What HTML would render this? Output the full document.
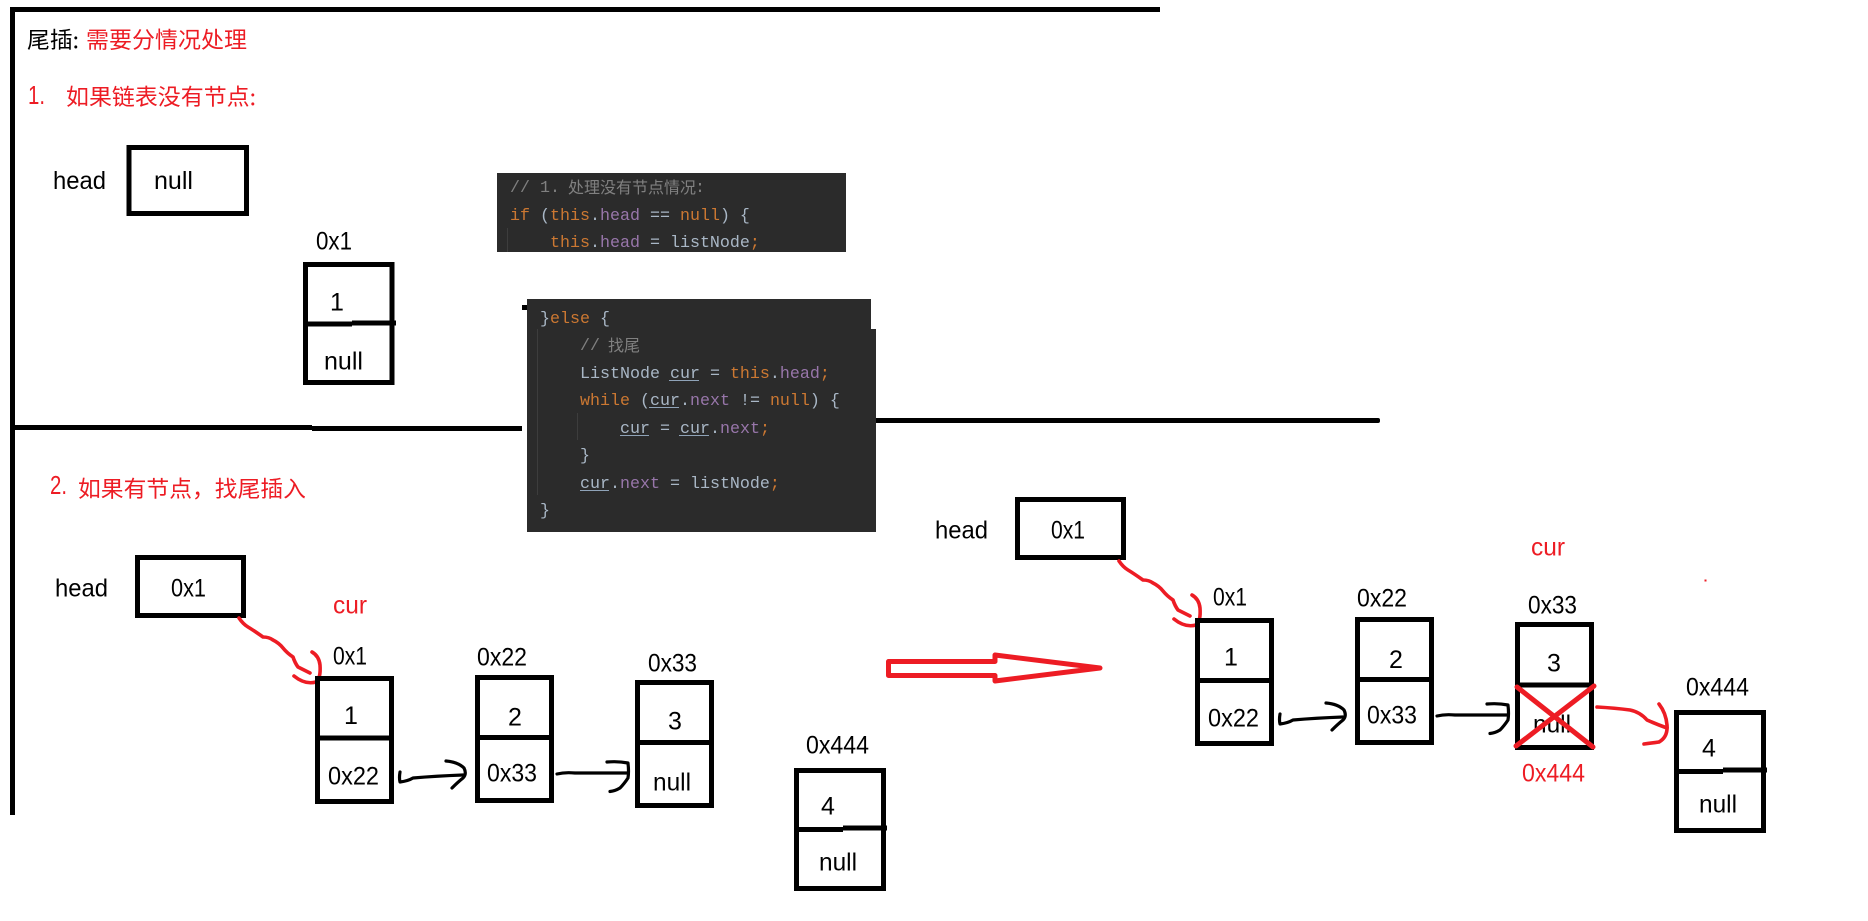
<!DOCTYPE html>
<html><head><meta charset="utf-8"><style>
html,body{margin:0;padding:0;background:#fff}
svg{display:block}
.t{font-family:"Liberation Sans","Noto Sans CJK SC",sans-serif;font-size:25px;fill:#000}
.c{font-family:"Noto Sans CJK SC","Liberation Sans",sans-serif;font-size:22.5px;fill:#000}
.r{fill:#ed1c24}
.n{fill:none;stroke:#000;stroke-width:5}
.d{fill:none;stroke:#000;stroke-width:5}
.m{font-family:"Liberation Mono",monospace;font-size:16.67px;fill:#a9b7c6;white-space:pre}
.k{fill:#cc7832}.f{fill:#9876aa}.g{fill:#808080}
.j{font-family:"Noto Sans CJK SC",sans-serif;font-size:16px;fill:#808080}
.u{stroke:#8fa3b8;stroke-width:1}
.i{stroke:#3d3d3d;stroke-width:1}
.b{fill:none;stroke:#000;stroke-width:3.2;stroke-linecap:round;stroke-linejoin:round}
.a{fill:none;stroke:#ed1c24;stroke-width:3.6;stroke-linecap:round;stroke-linejoin:round}
</style></head><body>
<svg xmlns="http://www.w3.org/2000/svg" width="1868" height="921" viewBox="0 0 1868 921">
<rect width="1868" height="921" fill="#fff"/>
<!-- frame lines -->
<rect x="10" y="7" width="1150" height="5"/>
<rect x="10" y="7" width="5" height="808"/>
<rect x="15" y="425" width="297" height="5"/>
<rect x="312" y="426" width="210" height="5"/>
<rect x="522" y="305" width="6" height="5"/>
<rect x="873" y="418" width="507" height="5" rx="2"/>
<!-- headings -->
<text class="c" x="27" y="48" textLength="52" lengthAdjust="spacingAndGlyphs">尾插:</text>
<text class="c r" x="86" y="48" textLength="161" lengthAdjust="spacingAndGlyphs">需要分情况处理</text>
<text class="t r" x="28" y="104" style="font-size:26px" textLength="17" lengthAdjust="spacingAndGlyphs">1.</text>
<text class="c r" x="66" y="105" textLength="190" lengthAdjust="spacingAndGlyphs">如果链表没有节点:</text>
<text class="t r" x="50" y="494" style="font-size:26px" textLength="17" lengthAdjust="spacingAndGlyphs">2.</text>
<text class="c r" x="78" y="497" textLength="228" lengthAdjust="spacingAndGlyphs">如果有节点，找尾插入</text>
<!-- section 1 -->
<text class="t" x="53" y="189" textLength="53" lengthAdjust="spacingAndGlyphs">head</text>
<rect class="n" x="129" y="147.5" width="117.5" height="66"/>
<text class="t" x="154" y="189" textLength="39" lengthAdjust="spacingAndGlyphs">null</text>
<text class="t" x="316" y="249.5" textLength="36" lengthAdjust="spacingAndGlyphs">0x1</text>
<rect class="n" x="305.5" y="264.5" width="86.5" height="118"/>
<path class="d" d="M303 324H352M352 323H396"/>
<text class="t" x="330" y="310.5">1</text>
<text class="t" x="324" y="369.5" textLength="39" lengthAdjust="spacingAndGlyphs">null</text>
<!-- code 1 -->
<rect x="497" y="173" width="349" height="79" fill="#2b2b2b"/>
<line class="i" x1="507.5" y1="228" x2="507.5" y2="252"/>
<text class="m" x="510" y="192"><tspan class="g">// 1.</tspan></text>
<text class="j" x="568" y="193" textLength="128" lengthAdjust="spacingAndGlyphs">处理没有节点情况</text>
<text class="m g" x="695" y="192">:</text>
<text class="m" x="510" y="220"><tspan class="k">if</tspan> (<tspan class="k">this</tspan>.<tspan class="f">head</tspan> == <tspan class="k">null</tspan>) {</text>
<text class="m" x="550" y="247"><tspan class="k">this</tspan>.<tspan class="f">head</tspan> = listNode<tspan class="k">;</tspan></text>
<!-- code 2 -->
<path d="M527 299H871V329H876V532H527Z" fill="#2b2b2b"/>
<line class="i" x1="537.5" y1="329" x2="537.5" y2="495"/>
<line class="i" x1="577.5" y1="413" x2="577.5" y2="440"/>
<text class="m" x="540" y="323">}<tspan class="k">else</tspan> {</text>
<text class="m g" x="580" y="350">//</text>
<text class="j" x="608" y="351" textLength="32" lengthAdjust="spacingAndGlyphs">找尾</text>
<text class="m" x="580" y="378">ListNode cur = <tspan class="k">this</tspan>.<tspan class="f">head</tspan><tspan class="k">;</tspan></text>
<line class="u" x1="669" y1="380.5" x2="699" y2="380.5"/>
<text class="m" x="580" y="405"><tspan class="k">while</tspan> (cur.<tspan class="f">next</tspan> != <tspan class="k">null</tspan>) {</text>
<line class="u" x1="649" y1="407.5" x2="679" y2="407.5"/>
<text class="m" x="620" y="433">cur = cur.<tspan class="f">next</tspan><tspan class="k">;</tspan></text>
<line class="u" x1="620" y1="435.5" x2="649" y2="435.5"/>
<line class="u" x1="679" y1="435.5" x2="709" y2="435.5"/>
<text class="m" x="580" y="460">}</text>
<text class="m" x="580" y="488">cur.<tspan class="f">next</tspan> = listNode<tspan class="k">;</tspan></text>
<line class="u" x1="580" y1="490.5" x2="609" y2="490.5"/>
<text class="m" x="540" y="515">}</text>
<!-- section 2 left -->
<text class="t" x="55" y="596.5" textLength="53" lengthAdjust="spacingAndGlyphs">head</text>
<rect class="n" x="137.5" y="557.5" width="106" height="58"/>
<text class="t" x="171" y="596.5" textLength="35" lengthAdjust="spacingAndGlyphs">0x1</text>
<text class="t r" x="333" y="613.5" textLength="34" lengthAdjust="spacingAndGlyphs">cur</text>
<text class="t" x="333" y="664.5" textLength="34" lengthAdjust="spacingAndGlyphs">0x1</text>
<path class="a" d="M239 618Q243 624 248 627T263 637Q269 637 273 640Q279 643 283 648T293 657Q295 663 298 667Q304 670 310 673"/>
<path class="a" d="M312 652Q319 656 320 665Q321 678 316 682Q305 685 294 676"/>
<rect class="n" x="317.5" y="678.5" width="74" height="123"/>
<path class="d" d="M315 738H394"/>
<text class="t" x="344" y="724">1</text>
<text class="t" x="328" y="784.5" textLength="51" lengthAdjust="spacingAndGlyphs">0x22</text>
<path class="b" d="M400 772Q399 778 400 782Q408 781 413 778Q436 776 463 775"/>
<path class="b" d="M446 761Q458 762 464 768Q467 774 463 778Q458 782 452 788"/>
<text class="t" x="477" y="665.5" textLength="50" lengthAdjust="spacingAndGlyphs">0x22</text>
<rect class="n" x="477.5" y="677.5" width="74" height="123"/>
<path class="d" d="M475 737.5H554"/>
<text class="t" x="508" y="725.5">2</text>
<text class="t" x="487" y="781.5" textLength="50" lengthAdjust="spacingAndGlyphs">0x33</text>
<path class="b" d="M557 774Q565 772 575 773L627 773"/>
<path class="b" d="M607 762Q618 761 628 763Q629 772 628 778Q624 784 620 788Q615 791 610 791.5"/>
<text class="t" x="648" y="671.5" textLength="49" lengthAdjust="spacingAndGlyphs">0x33</text>
<rect class="n" x="637.5" y="682.5" width="74" height="123"/>
<path class="d" d="M635 742.5H714"/>
<text class="t" x="668" y="729.5">3</text>
<text class="t" x="653" y="790.5" textLength="38" lengthAdjust="spacingAndGlyphs">null</text>
<text class="t" x="806" y="753.5" textLength="63" lengthAdjust="spacingAndGlyphs">0x444</text>
<rect class="n" x="796.5" y="770.5" width="87" height="118"/>
<path class="d" d="M794 829.5H843M843 828H887"/>
<text class="t" x="821" y="814.5">4</text>
<text class="t" x="819" y="870.5" textLength="38" lengthAdjust="spacingAndGlyphs">null</text>
<!-- big arrow -->
<path d="M888.5 661.5H995V655L1100 668L995 681V675.5H888.5Z" fill="none" stroke="#ed1c24" stroke-width="5" stroke-linejoin="round"/>
<!-- right -->
<text class="t" x="935" y="538.5" textLength="53" lengthAdjust="spacingAndGlyphs">head</text>
<rect class="n" x="1017.5" y="499.5" width="106" height="58"/>
<text class="t" x="1051" y="538.5" textLength="34" lengthAdjust="spacingAndGlyphs">0x1</text>
<path class="a" transform="translate(880,-57)" d="M239 618Q243 624 248 627T263 637Q269 637 273 640Q279 643 283 648T293 657Q295 663 298 667Q304 670 310 673"/>
<path class="a" transform="translate(880,-57)" d="M312 652Q319 656 320 665Q321 678 316 682Q305 685 294 676"/>
<text class="t" x="1213" y="605.5" textLength="34" lengthAdjust="spacingAndGlyphs">0x1</text>
<rect class="n" x="1197.5" y="620.5" width="74" height="123"/>
<path class="d" d="M1195 680.5H1274"/>
<text class="t" x="1224" y="665.5">1</text>
<text class="t" x="1208" y="726.5" textLength="51" lengthAdjust="spacingAndGlyphs">0x22</text>
<path class="b" transform="translate(880,-58)" d="M400 772Q399 778 400 782Q408 781 413 778Q436 776 463 775"/>
<path class="b" transform="translate(880,-58)" d="M446 761Q458 762 464 768Q467 774 463 778Q458 782 452 788"/>
<text class="t" x="1357" y="606.5" textLength="50" lengthAdjust="spacingAndGlyphs">0x22</text>
<rect class="n" x="1357.5" y="619.5" width="74" height="123"/>
<path class="d" d="M1355 679.5H1434"/>
<text class="t" x="1389" y="668">2</text>
<text class="t" x="1367" y="723.5" textLength="50" lengthAdjust="spacingAndGlyphs">0x33</text>
<path class="b" transform="translate(880,-58)" d="M557 774Q565 772 575 773L627 773"/>
<path class="b" transform="translate(880,-58)" d="M607 762Q618 761 628 763Q629 772 628 778Q624 784 620 788Q615 791 610 791.5"/>
<text class="t r" x="1531" y="555.5" textLength="34" lengthAdjust="spacingAndGlyphs">cur</text>
<text class="t" x="1528" y="613.5" textLength="49" lengthAdjust="spacingAndGlyphs">0x33</text>
<rect class="n" x="1517.5" y="624.5" width="74" height="123"/>
<path class="d" d="M1515 685H1594"/>
<text class="t" x="1547" y="671.5">3</text>
<text class="t" x="1533" y="732.5" textLength="38" lengthAdjust="spacingAndGlyphs">null</text>
<path d="M1517 687L1593 747M1594 686L1516 746" fill="none" stroke="#ed1c24" stroke-width="5" stroke-linecap="round"/>
<text class="t r" x="1522" y="781.5" textLength="63" lengthAdjust="spacingAndGlyphs">0x444</text>
<path class="a" d="M1597 707Q1615 708 1630 710Q1640 712 1647 720Q1656 724 1667 728"/>
<path class="a" d="M1659 704Q1666 713 1667 725Q1668 737 1659 742Q1652 743 1644 744"/>
<rect x="1704.5" y="579.5" width="2" height="2" fill="#ed1c24"/>
<text class="t" x="1686" y="695.5" textLength="63" lengthAdjust="spacingAndGlyphs">0x444</text>
<rect class="n" x="1676.5" y="712.5" width="87" height="118"/>
<path class="d" d="M1674 771.5H1723M1723 770H1767"/>
<text class="t" x="1702" y="756.5">4</text>
<text class="t" x="1699" y="812.5" textLength="38" lengthAdjust="spacingAndGlyphs">null</text>
</svg>
</body></html>
